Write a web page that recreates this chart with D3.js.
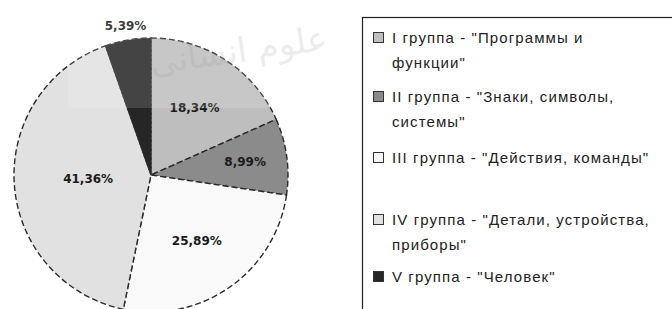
<!DOCTYPE html>
<html>
<head>
<meta charset="utf-8">
<script src="https://cdn.jsdelivr.net/npm/d3@7"></script>
<style>
  body { margin: 0; background: #fff; }
  svg { display: block; }
</style>
</head>
<body>
<svg width="672" height="309"></svg>
<script>
// groups and shares (%)
let groups = ["I", "II", "III", "IV", "V"];
let shares = [18.34, 8.99, 25.89, 41.36, 5.39];
let legendLines = [
    ["I группа - \"Программы и", "функции\""],
    ["II группа - \"Знаки, символы,", "системы\""],
    ["III группа - \"Действия, команды\""],
    ["IV группа - \"Детали, устройства,", "приборы\""],
    ["V группа - \"Человек\""]
];
let fills = ["#bebebe", "#8b8b8b", "#f9f9f9", "#e1e1e1", "#262626"];

let svg = d3.select("svg");
let cx = 151, cy = 175, radius = 137;

let pie = d3.pie().sort(null).value(d => d.v);
let arc = d3.arc().innerRadius(0).outerRadius(radius);
let data = groups.map((g, i) => ({ g: g, v: shares[i] }));
let arcs = pie(data);

let g = svg.append("g")
    .attr("transform", "translate(" + cx + "," + cy + ")");

g.selectAll("path.slice")
    .data(arcs)
    .enter()
    .append("path")
    .classed("slice", true)
    .attr("d", arc)
    .attr("fill", (d, i) => fills[i])
    .attr("stroke", "#2a2a2a")
    .attr("stroke-width", 1.4)
    .attr("stroke-dasharray", "6,3");

// label distance from the centre for each slice (excel "best fit")
let labelR = [80, 95, 80, 63, 151];
g.selectAll("text.lbl")
    .data(arcs)
    .enter()
    .append("text")
    .classed("lbl", true)
    .attr("x", (d, i) => Math.sin((d.startAngle + d.endAngle) / 2) * labelR[i])
    .attr("y", (d, i) => -Math.cos((d.startAngle + d.endAngle) / 2) * labelR[i])
    .attr("dy", "0.35em")
    .attr("text-anchor", "middle")
    .style("font-family", "DejaVu Sans, sans-serif")
    .style("font-weight", "bold")
    .style("font-size", "12px")
    .attr("fill", "#1a1a1a")
    .text(d => d.data.v.toFixed(2).replace(".", ",") + "%");

// faint watermark over the upper part
svg.append("rect")
    .attr("x", 68).attr("y", 0)
    .attr("width", 268).attr("height", 108)
    .attr("fill", "#fff")
    .attr("opacity", 0.14);
svg.append("text")
    .attr("x", 240).attr("y", 62)
    .attr("text-anchor", "middle")
    .attr("transform", "rotate(-8,240,62)")
    .style("font-family", "DejaVu Sans, sans-serif")
    .style("font-size", "34px")
    .attr("fill", "#999")
    .attr("opacity", 0.18)
    .text("علوم انسانی");

// legend
let legend = svg.append("g");
legend.append("rect")
    .attr("x", 362.5).attr("y", 17.5)
    .attr("width", 320).attr("height", 300)
    .attr("fill", "none")
    .attr("stroke", "#222")
    .attr("stroke-width", 1.2);

let rowY = d3.scaleOrdinal().domain(groups).range([38, 97, 158, 220, 277]);
let lineH = 25;

let items = legend.selectAll("g.item")
    .data(groups)
    .enter()
    .append("g")
    .classed("item", true)
    .attr("transform", d => "translate(0," + rowY(d) + ")");

items.append("rect")
    .attr("x", 373.5).attr("y", -5.5)
    .attr("width", 10).attr("height", 10)
    .attr("fill", (d, i) => fills[i])
    .attr("stroke", "#333")
    .attr("stroke-width", 1);

items.each(function (d, i) {
    let t = d3.select(this).append("text")
        .attr("x", 392)
        .attr("y", 0)
        .style("font-family", "Liberation Sans, Arial, sans-serif")
        .style("font-size", "15px")
        .style("letter-spacing", "1.1px")
        .attr("fill", "#222");
    legendLines[i].forEach((ln, k) => {
        t.append("tspan")
            .attr("x", 392)
            .attr("dy", k === 0 ? "0.35em" : lineH)
            .text(ln);
    });
});
</script>
</body>
</html>
